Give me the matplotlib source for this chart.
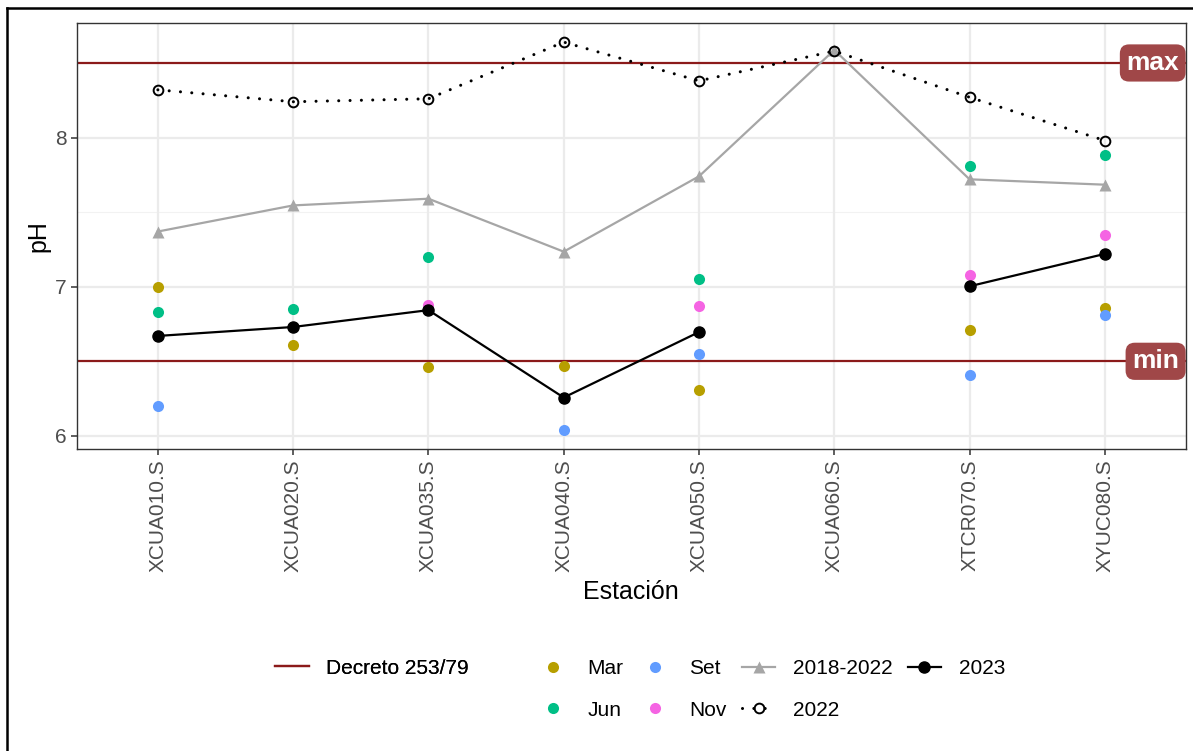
import numpy as np
import matplotlib.pyplot as plt
from matplotlib.lines import Line2D
import matplotlib.transforms as mtransforms

plt.rcParams['font.family'] = ['Liberation Sans', 'DejaVu Sans']

nan = np.nan
estaciones = ["XCUA010.S", "XCUA020.S", "XCUA035.S", "XCUA040.S",
              "XCUA050.S", "XCUA060.S", "XTCR070.S", "XYUC080.S"]

# campañas 2023 por mes
ph_mar = [7.00, 6.61, 6.46, 6.47, 6.31, nan, 6.71, 6.86]
ph_jun = [6.83, 6.85, 7.20, nan, 7.05, nan, 7.81, 7.88]
ph_set = [6.20, nan, nan, 6.04, 6.55, nan, 6.41, 6.81]
ph_nov = [nan, nan, 6.88, nan, 6.87, nan, 7.08, 7.35]

# medianas
ph_2018_2022 = [7.37, 7.545, 7.59, 7.235, 7.74, 8.587, 7.72, 7.684]
ph_2022 = [8.32, 8.24, 8.26, 8.64, 8.38, 8.58, 8.27, 7.98]
ph_2023 = [6.67, 6.73, 6.843, 6.257, 6.696, nan, 7.003, 7.22]

decreto_min = 6.5
decreto_max = 8.5

col_mar = "#B79F00"
col_jun = "#00BF86"
col_set = "#619CFF"
col_nov = "#F564E3"
col_decreto = "#8B1A1A"
col_hist = "#A6A6A6"

dotted = (0, (0.01, 3.7))

W, H = 1193, 751
fig = plt.figure(figsize=(W / 100, H / 100), dpi=100)
ax = fig.add_axes([76.7 / W, 1 - 449.3 / H, (1186 - 76.7) / W, (449.3 - 22.7) / H])

x = np.arange(len(estaciones))

# grilla estilo theme_bw
for v in [6.5, 7.5, 8.5]:
    ax.axhline(v, color="#F2F2F2", lw=0.8, zorder=0)
for v in [6, 7, 8]:
    ax.axhline(v, color="#EBEBEB", lw=1.6, zorder=0)
for xi in x:
    ax.axvline(xi, color="#EBEBEB", lw=1.6, zorder=0)

ax.axhline(decreto_max, color=col_decreto, lw=1.6, zorder=1)
ax.axhline(decreto_min, color=col_decreto, lw=1.6, zorder=1)

ms = 8
ax.plot(x, ph_mar, "o", color=col_mar, ms=ms, mec="none", zorder=2)
ax.plot(x, ph_jun, "o", color=col_jun, ms=ms, mec="none", zorder=2)
ax.plot(x, ph_set, "o", color=col_set, ms=ms, mec="none", zorder=2)
ax.plot(x, ph_nov, "o", color=col_nov, ms=ms, mec="none", zorder=2)

ax.plot(x, ph_2018_2022, "-^", color=col_hist, lw=1.6, ms=8, mec="none", zorder=3)
ax.plot(x, ph_2022, color="black", lw=2.2, ls=dotted, dash_capstyle="round",
        marker="o", ms=7, mfc="none", mec="black", mew=1.4, zorder=4)
ax.plot(x, ph_2023, "-o", color="black", lw=1.6, ms=8, zorder=5)

# etiquetas de los límites, pegadas al borde derecho del panel
trans = mtransforms.blended_transform_factory(ax.transAxes, ax.transData)
for val, txt in [(decreto_max, "max"), (decreto_min, "min")]:
    ax.annotate(txt, xy=(1, val), xycoords=trans, xytext=(-5, 0),
                textcoords="offset points", ha="right", va="center",
                fontsize=19, fontweight="bold", color="white", zorder=6,
                bbox=dict(boxstyle="round,pad=0.25,rounding_size=0.35",
                          fc="#A04748", ec="none"))

ax.set_xlim(-0.6, len(estaciones) - 0.4)
ax.set_ylim(5.91, 8.77)
ax.set_yticks([6, 7, 8])
ax.set_xticks(x)
ax.set_xticklabels(estaciones, rotation=90, va="top", ha="center")
ax.tick_params(axis="both", colors="#333333", length=4.5, width=1.1,
               labelsize=15, labelcolor="#4D4D4D", pad=2.5)
for s in ax.spines.values():
    s.set_color("#333333")
    s.set_linewidth(1.0)

ax.set_xlabel("Estación", fontsize=18)
ax.xaxis.set_label_coords(0.5, (449.3 - 592) / 426.6)
ax.xaxis.label.set_va("center")
ax.set_ylabel("pH", fontsize=18)
ax.yaxis.set_label_coords((38 - 76.7) / 1109.3, 0.5)
ax.yaxis.label.set_va("center")

# leyendas
h_dec = [Line2D([], [], color=col_decreto, lw=1.6)]
leg1 = fig.legend(h_dec, ["Decreto 253/79"], loc="center left",
                  bbox_to_anchor=(265 / W, 1 - 668 / H), frameon=False,
                  fontsize=15, borderpad=0, handlelength=1.6, handletextpad=0.85)

h = [
    Line2D([], [], ls="none", marker="o", color=col_mar, ms=ms, mec="none"),
    Line2D([], [], ls="none", marker="o", color=col_jun, ms=ms, mec="none"),
    Line2D([], [], ls="none", marker="o", color=col_set, ms=ms, mec="none"),
    Line2D([], [], ls="none", marker="o", color=col_nov, ms=ms, mec="none"),
    Line2D([], [], color=col_hist, lw=1.6, marker="^", ms=8, mec="none"),
    Line2D([], [], color="black", lw=2.2, ls=dotted, dash_capstyle="round",
           marker="o", ms=7, mfc="none", mew=1.4),
    Line2D([], [], color="black", lw=1.6, marker="o", ms=8),
]
labels = ["Mar", "Jun", "Set", "Nov", "2018-2022", "2022", "2023"]
fig.legend(h, labels, ncol=4, loc="center left",
           bbox_to_anchor=(526 / W, 1 - 689.5 / H), frameon=False,
           fontsize=15, borderpad=0, handlelength=1.6, handletextpad=0.85,
           columnspacing=0.72, labelspacing=1.07)
fig.add_artist(leg1)

# marco exterior
fig.add_artist(Line2D([7 / W, 7 / W], [0, 1 - 8 / H], color="black", lw=1.8,
                      transform=fig.transFigure))
fig.add_artist(Line2D([7 / W, 1], [1 - 8 / H, 1 - 8 / H], color="black", lw=1.8,
                      transform=fig.transFigure))

fig.savefig("out.png", dpi=100)
